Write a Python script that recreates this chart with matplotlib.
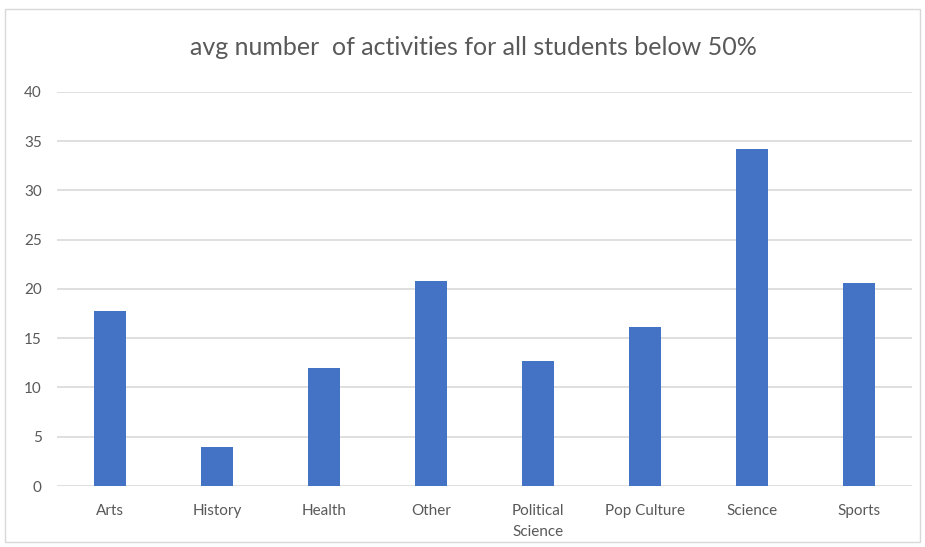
import matplotlib.pyplot as plt
from matplotlib.patches import Rectangle

categories = ['Arts', 'History', 'Health', 'Other', 'Political\nScience',
              'Pop Culture', 'Science', 'Sports']
values = [17.8, 4.0, 12.0, 20.8, 12.7, 16.1, 34.2, 20.6]
yticks = [0, 5, 10, 15, 20, 25, 30, 35, 40]

plt.rcParams['font.family'] = ['Lato', 'DejaVu Sans']
text_color = '#595959'

fig = plt.figure(figsize=(9.25, 5.47), dpi=100)
ax = fig.add_axes([0.0616, 0.1115, 0.9244, 0.7205])

x = list(range(len(categories)))
ax.bar(x, values, width=0.3, color='#4472c4', zorder=3)

ax.set_xlim(-0.5, len(categories) - 0.5)
ax.set_ylim(0, 40)
ax.set_yticks(yticks)
ax.set_xticks(x)
ax.set_xticklabels(categories, linespacing=1.6)
ax.yaxis.grid(True, color='#d9d9d9', linewidth=1.2, zorder=0)
for s in ax.spines.values():
    s.set_visible(False)
ax.tick_params(axis='both', length=0, labelsize=11, labelcolor=text_color)
ax.tick_params(axis='x', pad=13)
ax.tick_params(axis='y', pad=11)

fig.text(0.512, 0.914, 'avg number  of activities for all students below 50%',
         ha='center', va='center', fontsize=18, color=text_color)

fig.patches.append(Rectangle((0.005, 0.01), 0.99, 0.973, transform=fig.transFigure,
                             fill=False, edgecolor='#d9d9d9', linewidth=1))

fig.savefig('out.png', dpi=100)
